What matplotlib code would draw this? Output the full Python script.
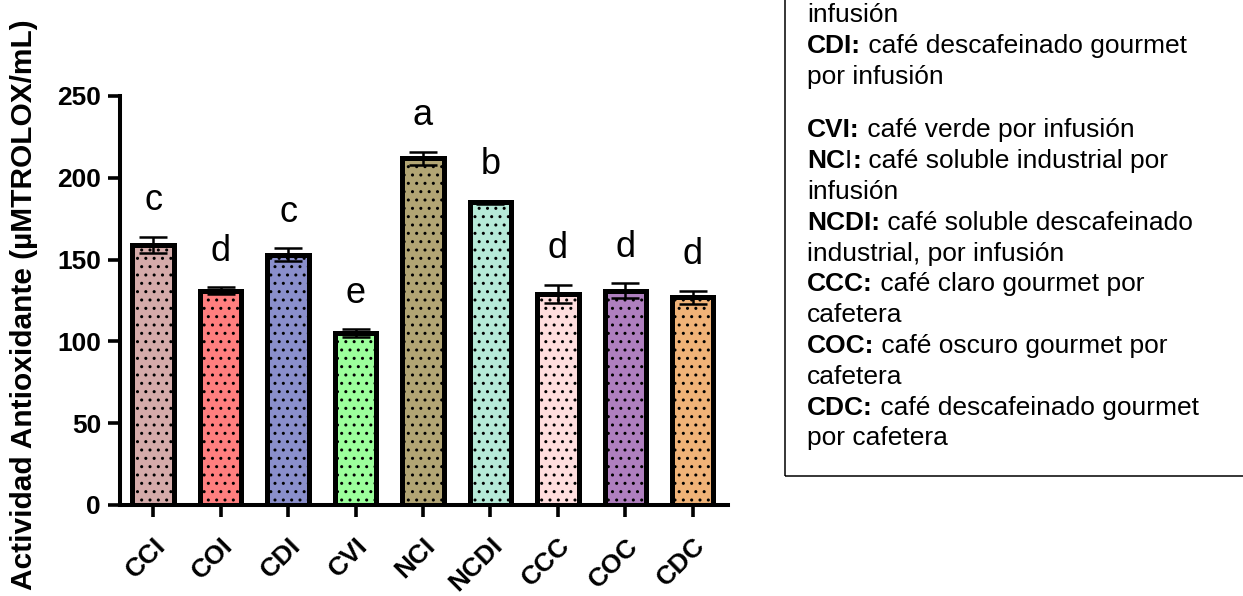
import matplotlib
matplotlib.use("Agg")
import matplotlib.pyplot as plt
from matplotlib.patches import Rectangle

plt.rcParams['font.family'] = ['Liberation Sans', 'DejaVu Sans']
plt.rcParams['hatch.linewidth'] = 1.0

# ---- data ----
categories = ["CCI", "COI", "CDI", "CVI", "NCI", "NCDI", "CCC", "COC", "CDC"]
values = [159, 131, 153, 105, 212, 185, 129, 131, 127]
errors = [5, 2, 4, 2.5, 4, 1, 5.5, 4.5, 4]
letters = ["c", "d", "c", "e", "a", "b", "d", "d", "d"]
colors = ["#D5ABAA", "#FF7F7F", "#8A8FCC", "#9CFF9C", "#B2A574",
          "#B6EAD8", "#FFDEDE", "#AF7FBF", "#F0B378"]
y_ticks = [0, 50, 100, 150, 200, 250]
y_label = "Actividad Antioxidante (µMTROLOX/mL)"

legend_lines = [
    [("infusión", "normal")],
    [("CDI:", "bold"), (" café descafeinado gourmet", "normal")],
    [("por infusión", "normal")],
    [("CVI:", "bold"), (" café verde por infusión", "normal")],
    [("NC", "bold"), ("I", "normal"), (":", "bold"), (" café soluble industrial por", "normal")],
    [("infusión", "normal")],
    [("NCDI:", "bold"), (" café soluble descafeinado", "normal")],
    [("industrial, por infusión", "normal")],
    [("CCC:", "bold"), (" café claro gourmet por", "normal")],
    [("cafetera", "normal")],
    [("COC:", "bold"), (" café oscuro gourmet por", "normal")],
    [("cafetera", "normal")],
    [("CDC:", "bold"), (" café descafeinado gourmet", "normal")],
    [("por cafetera", "normal")],
]

W, H = 1243, 596
fig = plt.figure(figsize=(W / 100, H / 100), dpi=100)
ax = fig.add_axes([120 / W, 1 - 505 / H, (728 - 120) / W, (505 - 96) / H])

x = list(range(len(categories)))
ax.bar(x, values, width=0.61, color=colors, edgecolor="black",
       linewidth=3.6, hatch="..", zorder=2)
ax.errorbar(x, values, yerr=errors, fmt="none", ecolor="black",
            elinewidth=1.8, capsize=10, capthick=1.8, zorder=3)

for xi, v, e, l in zip(x, values, errors, letters):
    ax.text(xi, v + e + 22, l, ha="center", va="center", fontsize=26,
            clip_on=False)

ax.set_xlim(-0.49, 8.52)
ax.set_ylim(0, 250)
ax.set_yticks(y_ticks)
ax.set_yticklabels([str(t) for t in y_ticks], fontsize=19, fontweight="bold")
ax.set_xticks(x)
ax.set_xticklabels(categories, fontsize=19, fontweight="bold", rotation=45,
                   ha="right", va="top", rotation_mode="anchor")
ax.tick_params(axis="both", direction="out", length=8.6, width=2.6, pad=5)
ax.tick_params(axis="x", pad=12)
for s in ["top", "right"]:
    ax.spines[s].set_visible(False)
for s in ["left", "bottom"]:
    ax.spines[s].set_linewidth(2.9)
ax.set_ylabel(y_label, fontsize=21.5, fontweight="bold")
ax.yaxis.set_label_coords(-(120 - 38) / (728 - 120), 0.49)

# ---- legend text box ----
box = Rectangle((785 / W, 1 - 476 / H), 0.6, 0.9, transform=fig.transFigure,
                fill=False, edgecolor="black", linewidth=1.1, clip_on=False)
fig.add_artist(box)

x0 = 807 / W
y0 = 15
step = 30.8
gap = 23
fs = 19
for i, segs in enumerate(legend_lines):
    ypix = y0 + i * step + (gap if i >= 3 else 0)
    last = None
    for txt, wt in segs:
        if last is None:
            last = fig.text(x0, 1 - ypix / H, txt, fontsize=fs, fontweight=wt,
                            ha="left", va="center")
        else:
            last = ax.annotate(txt, xy=(1, 0), xycoords=last,
                               fontsize=fs, fontweight=wt,
                               ha="left", va="bottom",
                               annotation_clip=False)

fig.savefig("out.png", dpi=100)
